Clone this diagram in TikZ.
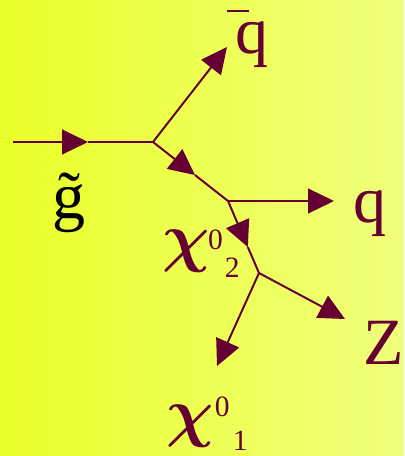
\RequirePackage{fix-cm}
\documentclass[tikz,border=0pt]{standalone}
\usepackage{fontspec}
\setmainfont{Liberation Serif}
\usetikzlibrary{arrows.meta,calc}
\definecolor{wine}{RGB}{102,0,51}
\definecolor{bgleft}{RGB}{234,255,40}
\definecolor{bgright}{RGB}{240,255,125}
\newcommand{\ixnum}[1]{{\fontsize{21}{21}\selectfont #1}}

\begin{document}
\begin{tikzpicture}[
  fline/.style={wine,line width=1.4pt},
  farr/.style={fline,-{Triangle[length=0.65cm,width=0.62cm]}},
  lab/.style={wine,inner sep=0pt,font=\fontsize{47}{50}\selectfont}]
  \useasboundingbox (0,0) rectangle (10.1,11.4);
  \shade[left color=bgleft,right color=bgright] (0,0) rectangle (10.1,11.4);
  % Vertices
  \coordinate (gin) at (0.325,7.85);
  \coordinate (v1) at (3.825,7.85);
  \coordinate (v2) at (5.7,6.375);
  \coordinate (v3) at (6.475,4.575);
  % Arrow tips
  \coordinate (tg) at (2.2,7.85);
  \coordinate (tqbar) at (5.675,10.225);
  \coordinate (tchib) at ($(v1)!0.56!(v2)$);
  \coordinate (tq) at (8.35,6.375);
  \coordinate (tchia) at ($(v2)!0.64!(v3)$);
  \coordinate (tz) at (8.625,3.425);
  \coordinate (tlsp) at (5.425,2.25);
  % Gluino line
  \draw[farr] (gin) -- (tg);
  \draw[fline] (tg) -- (v1);
  % First decay
  \draw[farr] (v1) -- (tqbar);
  \draw[farr] (v1) -- (tchib);
  \draw[fline] (tchib) -- (v2);
  % Second decay
  \draw[farr] (v2) -- (tq);
  \draw[farr] (v2) -- (tchia);
  \draw[fline] (tchia) -- (v3);
  % Third decay
  \draw[farr] (v3) -- (tz);
  \draw[farr] (v3) -- (tlsp);
  % Labels
  \node[lab,anchor=base] (qbar) at (6.3,10.05) {\rlap{\hspace{-0.2cm}\raisebox{1.05cm}{\rule{0.55cm}{0.05cm}}}q};
  \node[lab,anchor=base,text=black] (gl) at (1.725,5.925) {\~g};
  \node[lab,anchor=base] (q) at (9.25,5.825) {q};
  \node[lab,anchor=base] (z) at (9.5875,2.275) {Z};
  \node[lab,anchor=base west] (chi2) at (4.05,4.9) {{\boldmath$\chi$}\hspace{-0.04cm}\raisebox{0.25cm}{\ixnum{0}}\hspace{0.05cm}\raisebox{-0.45cm}{\ixnum{2}}};
  \node[lab,anchor=base west] (chi1) at (4.15,0.525) {{\boldmath$\chi$}\hspace{0.03cm}\raisebox{0.45cm}{\ixnum{0}}\hspace{0.08cm}\raisebox{-0.38cm}{\ixnum{1}}};
\end{tikzpicture}
\end{document}
